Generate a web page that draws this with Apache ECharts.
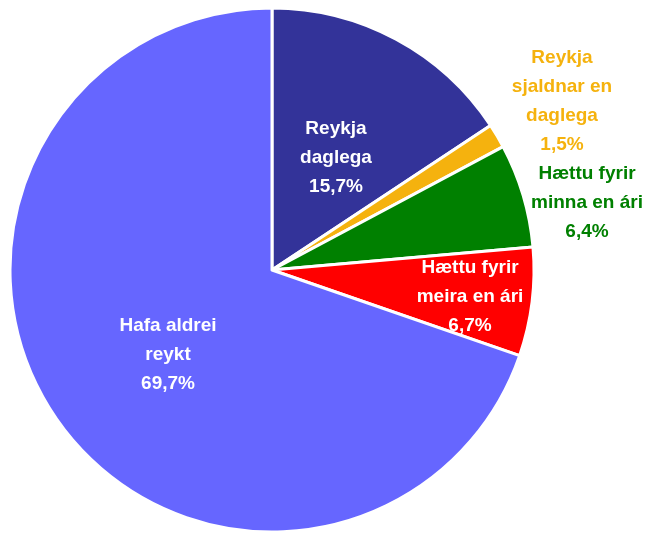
<!DOCTYPE html>
<html>
<head>
<meta charset="utf-8">
<script src="https://cdn.jsdelivr.net/npm/echarts@6/dist/echarts.min.js"></script>
<style>
  html, body { margin: 0; padding: 0; background: #fff; }
  #main { width: 650px; height: 533px; }
</style>
</head>
<body>
<div id="main"></div>
<script>
// flokkar og hlutföll (%)
var categories = ['Reykja\ndaglega', 'Reykja\nsjaldnar en\ndaglega', 'Hættu fyrir\nminna en ári', 'Hættu fyrir\nmeira en ári', 'Hafa aldrei\nreykt']
var values = [15.7, 1.5, 6.4, 6.7, 69.7]
var colors = ['#333399', '#F5B20E', '#008000', '#FF0000', '#6666FF']
var labelColors = ['#ffffff', '#F5B20E', '#008000', '#ffffff', '#ffffff']

// label centres in pixels
var labelPos = [[336, 158], [562, 101], [587, 203], [470, 297], [168, 355]]

var chart = echarts.init(document.getElementById('main'))
chart.setOption({
  backgroundColor: '#fff',
  animation: false,
  series: [{
    type: 'pie',
    center: [272, 270],
    radius: [0, 262],
    startAngle: 90,
    clockwise: true,
    avoidLabelOverlap: false,
    itemStyle: {
      borderColor: '#fff',
      borderWidth: 3
    },
    label: {
      position: 'inside',
      fontFamily: "'Liberation Sans', Arial, sans-serif",
      fontWeight: 'bold',
      fontSize: 19,
      lineHeight: 29,
      align: 'center',
      verticalAlign: 'middle',
      formatter: function (p) {
        return p.name + '\n' + p.value.toFixed(1).replace('.', ',') + '%'
      }
    },
    labelLine: { show: false },
    labelLayout: function (params) {
      var pos = labelPos[params.dataIndex]
      return { x: pos[0], y: pos[1], align: 'center', verticalAlign: 'middle' }
    },
    data: categories.map(function (name, i) {
      return {
        name: name,
        value: values[i],
        itemStyle: { color: colors[i] },
        label: { color: labelColors[i] }
      }
    })
  }]
})
</script>
</body>
</html>
